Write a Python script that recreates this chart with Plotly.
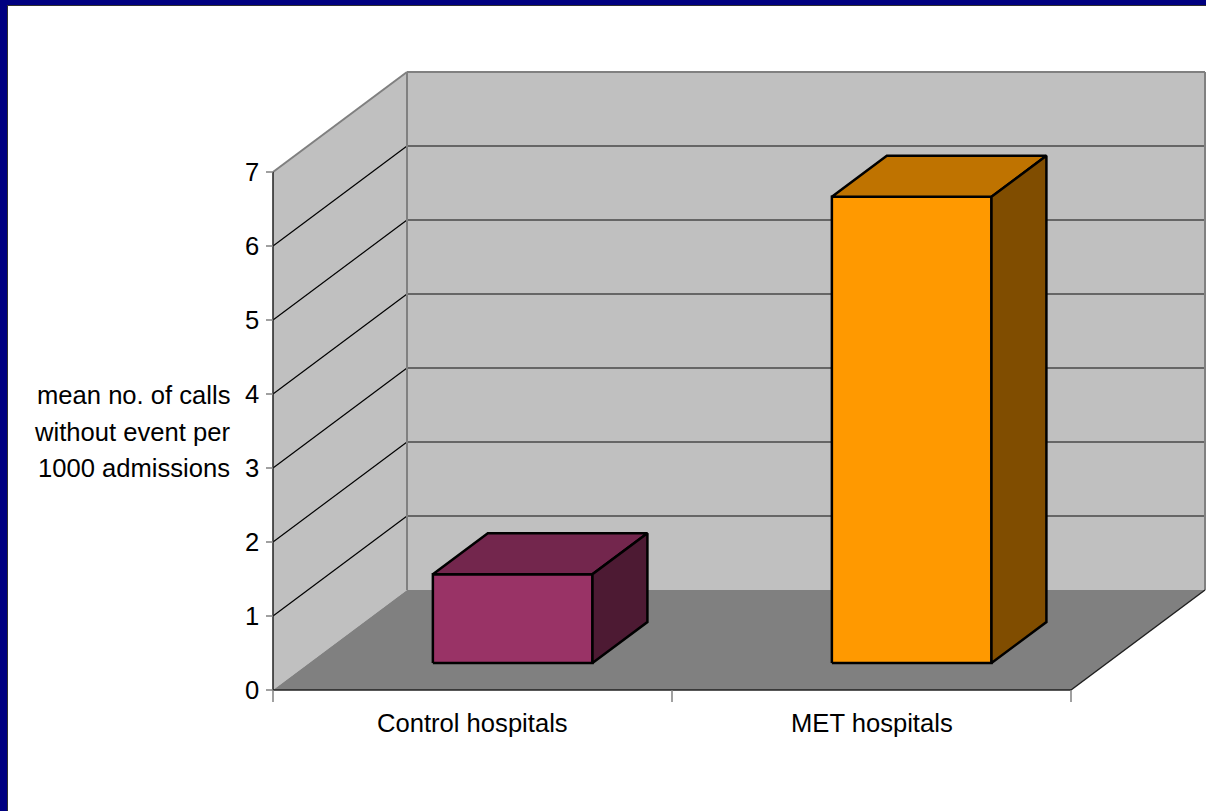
import plotly.graph_objects as go

# ---- chart data -------------------------------------------------------
categories = ["Control hospitals", "MET hospitals"]
values = [1.2, 6.3]
y_ticks = [0, 1, 2, 3, 4, 5, 6, 7]
y_title_lines = ["mean no. of calls", "without event per", "1000 admissions"]

front_colors = ["#993366", "#FF9900"]
top_colors = ["#73264D", "#BF7300"]
side_colors = ["#4D1A33", "#804D00"]

# ---- 3-D look: oblique projection -------------------------------------
# depth 0 is the front plane, depth 1 is the back wall
W, H = 1206, 811
PX_PER_CAT = 399          # pixels per category on the front plane
PX_PER_UNIT = 74          # pixels per value unit on the front plane
ORIGIN_X, ORIGIN_Y = 273, 690
DX = 134 / PX_PER_CAT     # depth shift, category units
DY = 100 / PX_PER_UNIT    # depth shift, value units
Y_MAX = max(y_ticks)
N = len(categories)
BAR_WIDTH = 0.40
BAR_D0, BAR_D1 = 0.27, 0.68
BAR_SHIFT = 0.01
FONT = "Liberation Sans, Arial, sans-serif"
FONT_SIZE = 25.6


def proj(c, v, d):
    return c + d * DX, v + d * DY


def polygon(pts, fill, line_color=None, line_width=0):
    pts = list(pts) + [pts[0]]
    return go.Scatter(
        x=[p[0] for p in pts], y=[p[1] for p in pts],
        mode="lines", fill="toself", fillcolor=fill,
        line=dict(color=line_color or fill, width=line_width),
        hoverinfo="skip", showlegend=False,
    )


def segments(segs, color, width):
    xs, ys = [], []
    for a, b in segs:
        xs += [a[0], b[0], None]
        ys += [a[1], b[1], None]
    return go.Scatter(x=xs, y=ys, mode="lines",
                      line=dict(color=color, width=width),
                      hoverinfo="skip", showlegend=False)


fig = go.Figure()

# walls and floor
fig.add_trace(polygon([proj(0, 0, 0), proj(0, Y_MAX, 0), proj(0, Y_MAX, 1), proj(0, 0, 1)], "#C0C0C0"))
fig.add_trace(polygon([proj(0, 0, 1), proj(0, Y_MAX, 1), proj(N, Y_MAX, 1), proj(N, 0, 1)], "#C0C0C0"))
fig.add_trace(polygon([proj(0, 0, 0), proj(N, 0, 0), proj(N, 0, 1), proj(0, 0, 1)], "#808080"))

# gridlines
inner = [t for t in y_ticks if 0 < t < Y_MAX]
fig.add_trace(segments([(proj(0, t, 1), proj(N, t, 1)) for t in inner], "#666666", 2))
fig.add_trace(segments([(proj(0, t, 0), proj(0, t, 1)) for t in inner], "#000000", 1.2))

# wall edges
fig.add_trace(segments([
    (proj(0, Y_MAX, 0), proj(0, Y_MAX, 1)),
    (proj(0, Y_MAX, 1), proj(N, Y_MAX, 1)),
    (proj(0, 0, 1), proj(0, Y_MAX, 1)),
    (proj(N, 0, 1), proj(N, Y_MAX, 1)),
], "#808080", 2))
fig.add_trace(segments([
    (proj(0, 0, 0), proj(0, Y_MAX, 0)),
    (proj(0, 0, 0), proj(N, 0, 0)),
    (proj(N, 0, 0), proj(N, 0, 1)),
], "#202020", 1.5))

# tick marks
tick_dx = 7 / PX_PER_CAT
tick_dy = 12 / PX_PER_UNIT
fig.add_trace(segments([((0, t), (-tick_dx, t)) for t in y_ticks], "#808080", 1.5))
fig.add_trace(segments([((c, 0), (c, -tick_dy)) for c in range(N + 1)], "#808080", 1.5))

# bars: front, top and right-hand faces
for i, v in enumerate(values):
    c = i + 0.5 + BAR_SHIFT
    x0, x1 = c - BAR_WIDTH / 2, c + BAR_WIDTH / 2
    fig.add_trace(polygon([proj(x0, 0, BAR_D0), proj(x1, 0, BAR_D0),
                           proj(x1, v, BAR_D0), proj(x0, v, BAR_D0)],
                          front_colors[i], "#000000", 2.5))
    fig.add_trace(polygon([proj(x0, v, BAR_D0), proj(x1, v, BAR_D0),
                           proj(x1, v, BAR_D1), proj(x0, v, BAR_D1)],
                          top_colors[i], "#000000", 2.5))
    fig.add_trace(polygon([proj(x1, 0, BAR_D0), proj(x1, 0, BAR_D1),
                           proj(x1, v, BAR_D1), proj(x1, v, BAR_D0)],
                          side_colors[i], "#000000", 2.5))

annotations = []
# value-axis labels
for t in y_ticks:
    annotations.append(dict(x=0, y=t, xref="x", yref="y", text=str(t),
                            xanchor="right", yanchor="middle", xshift=-12,
                            showarrow=False))
# category labels
for i, name in enumerate(categories):
    annotations.append(dict(x=i + 0.5, y=0, xref="x", yref="y", text=name,
                            xanchor="center", yanchor="middle", yshift=-33,
                            showarrow=False))
# value-axis title, one annotation per line
for k, line in enumerate(y_title_lines):
    annotations.append(dict(x=232 / W, y=1 - (395 + 36.5 * k) / H,
                            xref="paper", yref="paper", text=line,
                            xanchor="right", yanchor="middle",
                            showarrow=False))

fig.update_layout(
    width=W, height=H, autosize=False,
    margin=dict(l=0, r=0, t=0, b=0, pad=0),
    paper_bgcolor="#000080", plot_bgcolor="rgba(0,0,0,0)",
    font=dict(family=FONT, size=FONT_SIZE, color="#000000"),
    showlegend=False,
    xaxis=dict(visible=False, fixedrange=True,
               range=[-ORIGIN_X / PX_PER_CAT, (W - ORIGIN_X) / PX_PER_CAT]),
    yaxis=dict(visible=False, fixedrange=True,
               range=[(ORIGIN_Y - H) / PX_PER_UNIT, ORIGIN_Y / PX_PER_UNIT]),
    shapes=[dict(type="rect", xref="paper", yref="paper", layer="below",
                 x0=7.5 / W, x1=1.02, y0=-0.02, y1=1 - 5.5 / H,
                 fillcolor="#FFFFFF", line=dict(color="#303030", width=1))],
    annotations=annotations,
)

fig.write_html("out.html", config={"displayModeBar": False})
